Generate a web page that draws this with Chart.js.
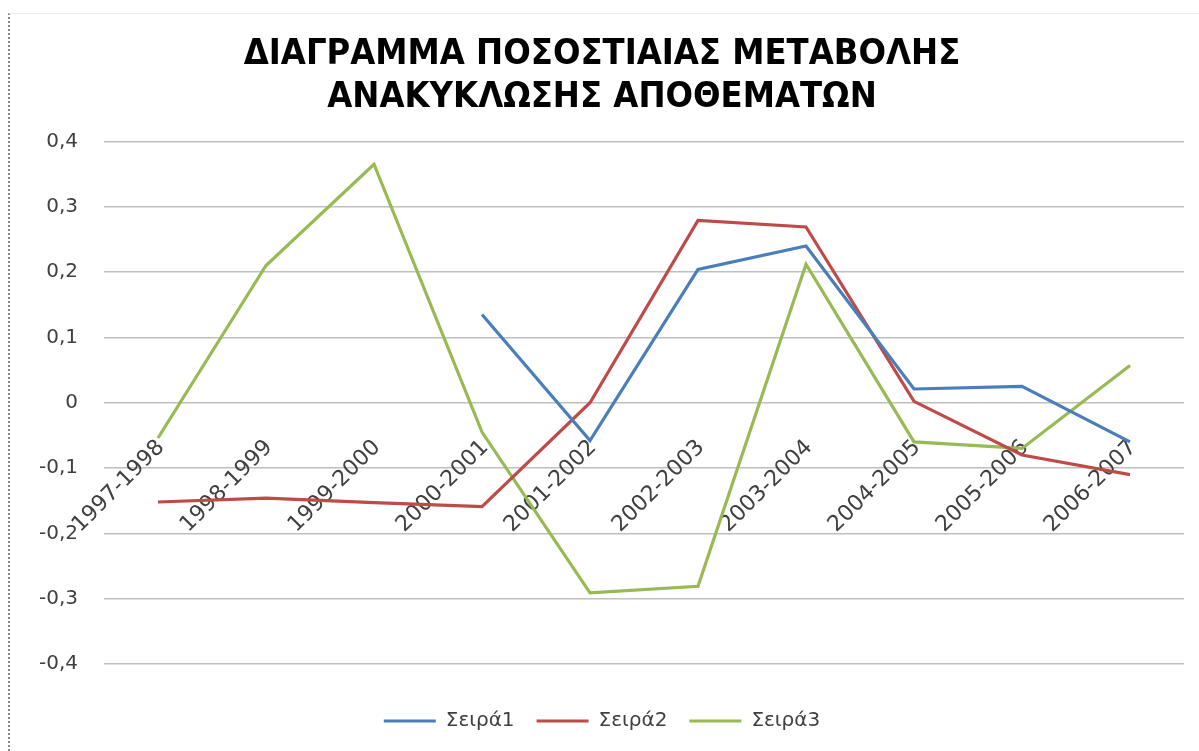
<!DOCTYPE html>
<html>
<head>
<meta charset="utf-8">
<script src="https://cdn.jsdelivr.net/npm/chart.js@4.4.1/dist/chart.umd.min.js"></script>
<style>
  html, body { margin: 0; padding: 0; background: #fff; }
  .frame { position: absolute; left: 8px; top: 13px; right: 0; bottom: 0;
    border-left: 2px dotted #8a8a8a; border-top: 1px solid #ececec; }
  .chart-wrap { position: absolute; left: 0; top: 0; width: 1199px; height: 751px; }
</style>
</head>
<body>
<div class="frame"></div>
<div class="chart-wrap"><canvas id="c"></canvas></div>
<script>
const periods = ['1997-1998', '1998-1999', '1999-2000', '2000-2001', '2001-2002',
  '2002-2003', '2003-2004', '2004-2005', '2005-2006', '2006-2007'];
const seira1 = [null, null, null, 0.135, -0.058, 0.204, 0.24, 0.021, 0.025, -0.06];
const seira2 = [-0.152, -0.146, -0.153, -0.159, 0.0, 0.279, 0.269, 0.002, -0.08, -0.11];
const seira3 = [-0.054, 0.21, 0.365, -0.045, -0.291, -0.281, 0.212, -0.06, -0.07, 0.057];
const titleLines = ['ΔΙΑΓΡΑΜΜΑ ΠΟΣΟΣΤΙΑΙΑΣ ΜΕΤΑΒΟΛΗΣ', 'ΑΝΑΚΥΚΛΩΣΗΣ ΑΠΟΘΕΜΑΤΩΝ'];

const labelFont = "'DejaVu Sans', sans-serif";
const textCol = '#404040';

function line(label, data, color) {
  return {
    label, data,
    borderColor: color, backgroundColor: color,
    borderWidth: 3.2, pointRadius: 0, tension: 0, spanGaps: false
  };
}

new Chart(document.getElementById('c'), {
  type: 'line',
  data: {
    labels: periods,
    datasets: [
      line('Σειρά1', seira1, '#4a7ebb'),
      line('Σειρά2', seira2, '#be4b48'),
      line('Σειρά3', seira3, '#98b954')
    ]
  },
  options: {
    responsive: true, maintainAspectRatio: false, animation: false,
    layout: { padding: { left: 20, right: 15, top: 0, bottom: 10 } },
    plugins: {
      title: {
        display: true, text: titleLines, color: '#000',
        font: { family: "'DejaVu Sans Condensed', 'DejaVu Sans', sans-serif", size: 36, weight: 'bold', lineHeight: 1.2 },
        padding: { top: 33, bottom: 22 }
      },
      legend: {
        position: 'bottom',
        title: { display: true, text: ' ', font: { size: 10, lineHeight: 1 }, padding: { top: 0, bottom: 15 } },
        labels: {
          boxWidth: 52, boxHeight: 3, color: textCol, padding: 22,
          font: { family: labelFont, size: 20 },
          generateLabels(chart) {
            return Chart.defaults.plugins.legend.labels.generateLabels(chart)
              .map(l => Object.assign(l, { lineWidth: 0 }));
          }
        }
      },
      tooltip: { enabled: false }
    },
    scales: {
      x: {
        offset: true,
        position: { y: 0 },
        grid: { display: false, drawTicks: false },
        border: { display: false },
        ticks: { color: textCol, font: { family: labelFont, size: 22 }, minRotation: 45, maxRotation: 45, padding: 32, labelOffset: 3, autoSkip: false }
      },
      y: {
        min: -0.4, max: 0.4,
        afterFit(s) { s.width = 84; },
        grid: { color: '#bfbfbf', lineWidth: 1.6, drawTicks: false },
        border: { display: false },
        ticks: {
          stepSize: 0.1, padding: 26, color: textCol,
          font: { family: labelFont, size: 20 },
          callback(v) {
            const r = Math.round(v * 10) / 10;
            return r === 0 ? '0' : r.toFixed(1).replace('.', ',');
          }
        }
      }
    }
  }
});
</script>
</body>
</html>
